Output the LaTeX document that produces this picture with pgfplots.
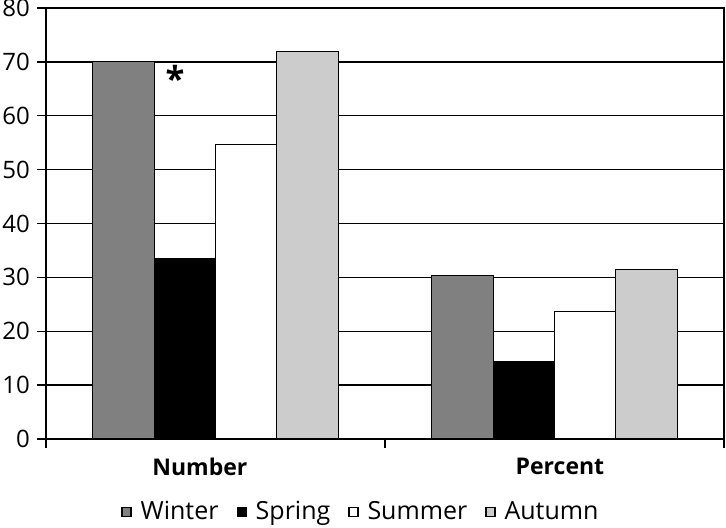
\documentclass[border=0pt]{standalone}
\usepackage{pgfplots}
\pgfplotsset{compat=1.18}
\usepackage{fontspec}
\setmainfont{Open Sans}
\definecolor{winter}{RGB}{128,128,128}
\definecolor{autumn}{RGB}{204,204,204}
\newcommand\tickfont{\fontsize{12}{14.4}\selectfont}
\newcommand\legfont{\fontsize{12.5}{15}\selectfont}

\begin{document}
\begin{tikzpicture}
\begin{axis}[
    scale only axis,
    width=339pt, height=215.5pt,
    xmin=0, xmax=2, ymin=0, ymax=80,
    ytick={0,10,...,80},
    xtick={0,1,2}, xticklabels={},
    extra x ticks={0.454,1.516},
    extra x tick labels={\textbf{Number},\textbf{Percent}},
    extra x tick style={major tick length=0pt,
        xticklabel style={yshift=-6pt, font=\fontsize{11.5}{13.8}\selectfont}},
    ymajorgrids,
    major grid style={black, line width=0.7pt},
    axis line style={line width=0.7pt},
    tick style={black, line width=0.7pt},
    tick align=outside, major tick length=4.5pt,
    ytick pos=left, xtick pos=bottom,
    /pgf/number format/assume math mode=true,
    yticklabel style={font=\tickfont},
    ybar, bar width=0.181,
    every axis plot/.append style={draw=black, line width=0.6pt},
    legend style={at={(0.466,-0.17)}, anchor=center, draw=none,
        font=\legfont, legend columns=4,
        /tikz/every even column/.append style={column sep=7pt}},
    legend image code/.code={\draw[#1] (0pt,-2.25pt) rectangle (4.5pt,2.25pt);
        \path (7pt,0pt);},
]
\addplot[fill=winter, bar shift=-0.2715] coordinates {(0.5,70.0) (1.5,30.3)};
\addplot[fill=black, bar shift=-0.0905] coordinates {(0.5,33.4) (1.5,14.4)};
\addplot[fill=white, bar shift=0.0905] coordinates {(0.5,54.6) (1.5,23.7)};
\addplot[fill=autumn, bar shift=0.2715] coordinates {(0.5,71.9) (1.5,31.5)};
\legend{Winter,Spring,Summer,Autumn}
\node[font=\LARGE\bfseries] at (axis cs:0.3805,66.85) {*};
\end{axis}
\pgfresetboundingbox
\path[use as bounding box] (-23pt,-44pt) rectangle (340pt,219.5pt);
\end{tikzpicture}
\end{document}
